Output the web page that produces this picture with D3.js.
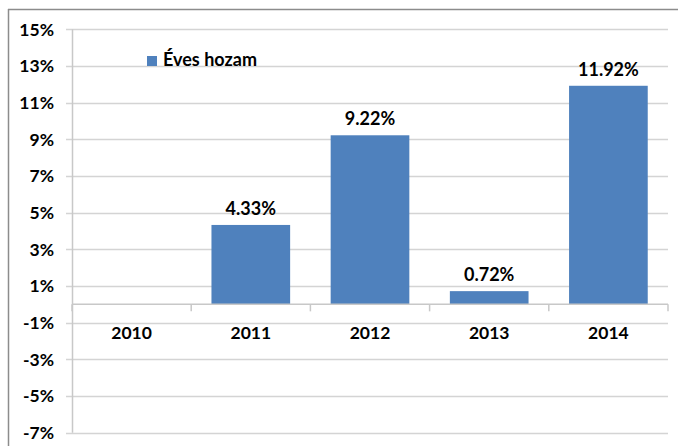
<!DOCTYPE html>
<html>
<head>
<meta charset="utf-8">
<script src="https://cdn.jsdelivr.net/npm/d3@7"></script>
<style>
  body { margin: 0; background: #fff; }
  text { font-family: Lato, "Open Sans", sans-serif; font-weight: bold; fill: #000; }
</style>
</head>
<body>
<div id="chart"></div>
<script>
// data
var years = ["2010", "2011", "2012", "2013", "2014"];
var returns = [0, 4.33, 9.22, 0.72, 11.92];
var showLabel = [false, true, true, true, true];
var yTicks = [-7, -5, -3, -1, 1, 3, 5, 7, 9, 11, 13, 15];
var seriesName = "Éves hozam";

var width = 678,
  height = 446,
  plotLeft = 72,
  plotRight = 668,
  plotTop = 29.3,
  plotBottom = 432.7,
  barColor = "#4f81bd";

var svg = d3.select("#chart")
  .append("svg")
  .attr("width", width)
  .attr("height", height);

// outer frame (top and left edges visible)
svg.append("line")
  .attr("x1", 8).attr("x2", width).attr("y1", 9.5).attr("y2", 9.5)
  .attr("stroke", "#8c8c8c").attr("stroke-width", 1.5);
svg.append("line")
  .attr("x1", 8.5).attr("x2", 8.5).attr("y1", 9).attr("y2", height)
  .attr("stroke", "#8c8c8c").attr("stroke-width", 1.5);

var x = d3.scaleBand()
  .domain(years)
  .range([plotLeft, plotRight])
  .paddingInner(0.34)
  .paddingOuter(0.17);

var y = d3.scaleLinear()
  .domain([-7, 15])
  .range([plotBottom, plotTop]);

// gridlines + y labels
svg.append("g")
  .selectAll("line")
  .data(yTicks)
  .enter()
  .append("line")
  .attr("x1", plotLeft - 6)
  .attr("x2", plotRight)
  .attr("y1", function(d) { return Math.round(y(d)) + 0.5; })
  .attr("y2", function(d) { return Math.round(y(d)) + 0.5; })
  .attr("stroke", "#d4d4d4")
  .attr("stroke-width", 1.5);

svg.append("g")
  .selectAll("text")
  .data(yTicks)
  .enter()
  .append("text")
  .attr("x", 54)
  .attr("y", function(d) { return y(d); })
  .attr("dy", "0.36em")
  .attr("text-anchor", "end")
  .style("font-size", "17.5px")
  .text(function(d) { return d + "%"; });

// vertical axis line
svg.append("line")
  .attr("x1", plotLeft + 0.5).attr("x2", plotLeft + 0.5)
  .attr("y1", y(15)).attr("y2", y(-7))
  .attr("stroke", "#c8c8c8").attr("stroke-width", 1.5);

// bars
svg.append("g")
  .selectAll("rect")
  .data(returns)
  .enter()
  .append("rect")
  .attr("x", function(d, i) { return x(years[i]); })
  .attr("width", x.bandwidth())
  .attr("y", function(d) { return y(Math.max(d, 0)); })
  .attr("height", function(d) { return Math.abs(y(d) - y(0)); })
  .attr("fill", barColor);

// category axis at zero
var step = x.step();
var bounds = d3.range(years.length + 1).map(function(i) { return plotLeft + i * step; });
svg.append("line")
  .attr("x1", plotLeft).attr("x2", plotRight)
  .attr("y1", y(0)).attr("y2", y(0))
  .attr("stroke", "#c8c8c8").attr("stroke-width", 1.5);
svg.append("g")
  .selectAll("line")
  .data(bounds)
  .enter()
  .append("line")
  .attr("x1", function(d) { return d; })
  .attr("x2", function(d) { return d; })
  .attr("y1", y(0))
  .attr("y2", y(0) + 7)
  .attr("stroke", "#c8c8c8").attr("stroke-width", 1.5);

svg.append("g")
  .selectAll("text")
  .data(years)
  .enter()
  .append("text")
  .attr("x", function(d) { return x(d) + x.bandwidth() / 2; })
  .attr("y", y(0) + 35)
  .attr("text-anchor", "middle")
  .style("font-size", "17.5px")
  .text(function(d) { return d; });

// value labels
var labelData = years.map(function(yr, i) {
  return { year: yr, value: returns[i], show: showLabel[i] };
}).filter(function(d) { return d.show; });

svg.append("g")
  .selectAll("text")
  .data(labelData)
  .enter()
  .append("text")
  .attr("x", function(d) { return x(d.year) + x.bandwidth() / 2; })
  .attr("y", function(d) { return y(d.value) - 10; })
  .attr("text-anchor", "middle")
  .style("font-size", "18px")
  .text(function(d) { return d.value.toFixed(2) + "%"; });

// legend
svg.append("rect")
  .attr("x", 147).attr("y", 56)
  .attr("width", 10).attr("height", 10)
  .attr("fill", barColor);
svg.append("text")
  .attr("x", 163).attr("y", 66)
  .style("font-size", "18px")
  .text(seriesName);
</script>
</body>
</html>
